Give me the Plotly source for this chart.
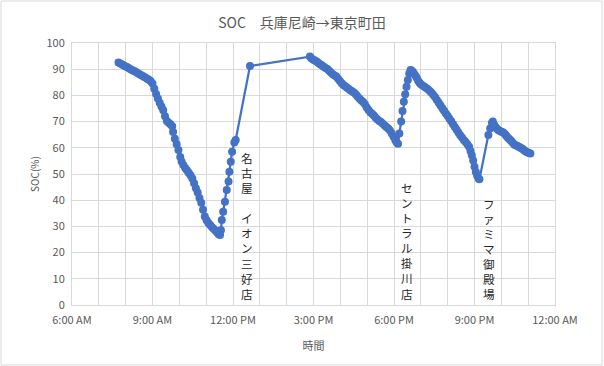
import plotly.graph_objects as go

# ---- data ----
times = [
    "07:44", "07:48", "07:52", "07:56", "08:00", "08:04", "08:08", "08:12", "08:16", "08:20",
    "08:24", "08:28", "08:32", "08:36", "08:40", "08:44", "08:48", "08:52", "08:56", "09:00",
    "09:04", "09:08", "09:12", "09:16", "09:20", "09:24", "09:28", "09:32", "09:36", "09:40",
    "09:44", "09:46", "09:50", "09:54", "09:58", "10:02", "10:05", "10:09", "10:13", "10:17",
    "10:21", "10:25", "10:29", "10:33", "10:37", "10:41", "10:45", "10:49", "10:53", "10:57",
    "11:01", "11:05", "11:09", "11:13", "11:17", "11:21", "11:25", "11:28", "11:31",
    "11:33", "11:35", "11:38", "11:42", "11:46", "11:50", "11:52", "11:55", "11:58", "12:03", "12:06",
    "12:38",
    "14:52", "14:55", "14:59", "15:03", "15:07", "15:11", "15:15", "15:19", "15:23", "15:27",
    "15:31", "15:35", "15:39", "15:43", "15:47", "15:51", "15:55", "15:59", "16:03", "16:07",
    "16:11", "16:15", "16:19", "16:23", "16:27", "16:31", "16:35", "16:39", "16:43", "16:47",
    "16:51", "16:55", "16:59", "17:03", "17:07", "17:11", "17:15", "17:19", "17:23", "17:27",
    "17:31", "17:35", "17:39", "17:43", "17:47", "17:51", "17:55", "17:59", "18:03", "18:06", "18:09",
    "18:12", "18:16", "18:19", "18:22", "18:25", "18:28", "18:31", "18:34", "18:37",
    "18:39", "18:42", "18:45", "18:48", "18:51", "18:54", "18:57", "19:00", "19:04", "19:08",
    "19:12", "19:16", "19:20", "19:24", "19:28", "19:32", "19:36", "19:40", "19:44", "19:48",
    "19:52", "19:56", "20:00", "20:04", "20:08", "20:12", "20:16", "20:20", "20:24", "20:28",
    "20:32", "20:36", "20:40", "20:44", "20:48", "20:51", "20:54", "20:57", "21:00", "21:03",
    "21:06", "21:09", "21:11",
    "21:31", "21:35", "21:39",
    "21:41", "21:44", "21:47", "21:50", "21:53", "21:56", "21:59", "22:02", "22:05", "22:08",
    "22:11", "22:14", "22:17", "22:20", "22:23", "22:26", "22:29", "22:32", "22:35", "22:38",
    "22:41", "22:44", "22:47", "22:50", "22:53", "22:56", "22:59", "23:02", "23:05",
]
soc = [
    92.6, 92.2, 91.8, 91.4, 91.0, 90.7, 90.3, 89.9, 89.5, 89.2,
    88.8, 88.4, 88.0, 87.6, 87.2, 86.8, 86.4, 86.0, 85.4, 84.5,
    82.5, 80.5, 78.8, 77.2, 75.8, 74.3, 72.0, 70.2, 69.6, 69.0,
    68.2, 66.0, 63.5, 61.4, 59.2, 56.5, 54.8, 53.4, 52.3, 51.4,
    50.5, 49.5, 48.3, 46.5, 44.6, 42.9, 40.8, 39.0, 36.4, 33.8,
    32.3, 31.3, 30.5, 29.7, 29.0, 28.3, 27.6, 27.0, 26.7,
    28.5, 32.4, 35.6, 39.4, 43.9, 47.1, 50.9, 54.7, 58.5, 62.0, 63.0,
    91.2,
    94.8, 94.2, 93.7, 93.3, 92.9, 92.4, 91.9, 91.4, 90.9, 90.5,
    90.1, 89.4, 88.7, 88.1, 87.6, 87.2, 86.4, 85.5, 84.6, 84.0,
    83.5, 82.9, 82.4, 81.9, 81.5, 81.0, 80.3, 79.5, 78.7, 78.1,
    77.5, 76.6, 75.4, 74.4, 73.6, 73.0, 72.3, 71.5, 70.8, 70.2,
    69.8, 69.2, 68.5, 67.9, 67.4, 66.6, 65.5, 64.2, 62.9, 62.0, 61.5,
    65.5, 70.0, 74.0, 77.6, 80.4, 83.3, 85.9, 88.4, 89.7,
    89.5, 89.0, 88.3, 87.5, 86.6, 85.6, 84.8, 84.3, 83.8, 83.3,
    82.8, 82.3, 81.7, 81.0, 80.2, 79.3, 78.2, 77.2, 76.1, 75.1,
    74.1, 73.1, 72.1, 71.1, 70.1, 69.0, 67.9, 66.9, 65.8, 64.8,
    63.9, 63.0, 62.2, 61.4, 60.4, 58.8, 57.2, 55.2, 52.8, 50.8,
    49.3, 48.3, 48.0,
    64.9, 67.4, 69.6,
    70.0, 68.8, 67.9, 67.3, 66.8, 66.5, 66.2, 66.0, 65.7, 65.3,
    64.6, 63.9, 63.5, 63.0, 62.4, 61.8, 61.3, 61.0, 60.8, 60.5,
    60.2, 59.9, 59.6, 59.2, 58.8, 58.5, 58.2, 58.0, 57.8,
]

label_texts = ["名古屋　イオン三好店", "セントラル掛川店", "ファミマ御殿場"]
label_times = ["12:32", "18:28", "21:32"]

title_text = "SOC　兵庫尼崎→東京町田"
x_title = "時間"
y_title = "SOC(%)"

DAY = "2023-01-01 "
x_vals = [DAY + t for t in times]

FONT = "Noto Sans CJK JP, Noto Sans, sans-serif"
GRAY = "#595959"
GRID = "#d9d9d9"
BLUE = "#4472C4"

fig = go.Figure()
fig.add_trace(go.Scatter(
    x=x_vals, y=soc, mode="lines+markers",
    line=dict(color=BLUE, width=2.25),
    marker=dict(color=BLUE, size=8),
    showlegend=False,
))

for txt, t in zip(label_texts, label_times):
    fig.add_annotation(
        x=DAY + t, y=0.2, xref="x", yref="y",
        text="<br>".join(list(txt)),
        showarrow=False, xanchor="center", yanchor="bottom",
        font=dict(family=FONT, size=11.6, color="#262626"),
    )

# outer border of the chart area
fig.add_shape(type="rect", xref="paper", yref="paper",
              x0=-0.1470, x1=1.0973, y0=-0.2290, y1=1.1603,
              line=dict(color=GRID, width=1), fillcolor="rgba(0,0,0,0)", layer="below")

fig.update_layout(
    width=604, height=366,
    margin=dict(l=72, r=49, t=43, b=61, autoexpand=False),
    paper_bgcolor="white", plot_bgcolor="white",
    title=dict(text=title_text, x=0.5, xref="container", y=0.937, yref="container",
               xanchor="center", yanchor="middle",
               font=dict(family=FONT, size=14, color=GRAY)),
    font=dict(family=FONT, size=11, color=GRAY),
)
fig.update_xaxes(
    type="date", automargin=False,
    range=[DAY + "06:00", "2023-01-02 00:00"],
    tick0=DAY + "06:00", dtick=3 * 3600000,
    tickformat="%-I:%M %p",
    showgrid=True, gridcolor=GRID, gridwidth=1,
    minor=dict(dtick=3600000, tick0=DAY + "06:00", showgrid=True, gridcolor=GRID, gridwidth=1),
    showline=True, linecolor=GRID, linewidth=1, mirror=True,
    zeroline=False,
    ticklabelstandoff=5,
    tickfont=dict(family=FONT, size=11, color=GRAY),
    title=dict(text=x_title, font=dict(family=FONT, size=11, color=GRAY), standoff=16),
)
fig.update_yaxes(
    automargin=False,
    range=[0, 100], dtick=10,
    showgrid=True, gridcolor=GRID, gridwidth=1,
    showline=True, linecolor=GRID, linewidth=1, mirror=True,
    zeroline=False,
    ticklabelstandoff=4,
    tickfont=dict(family=FONT, size=11, color=GRAY),
    title=dict(text=y_title, font=dict(family=FONT, size=10, color=GRAY), standoff=4),
)

fig.write_html("out.html", config={"displayModeBar": False},
               post_script="document.body.style.margin='0';")
